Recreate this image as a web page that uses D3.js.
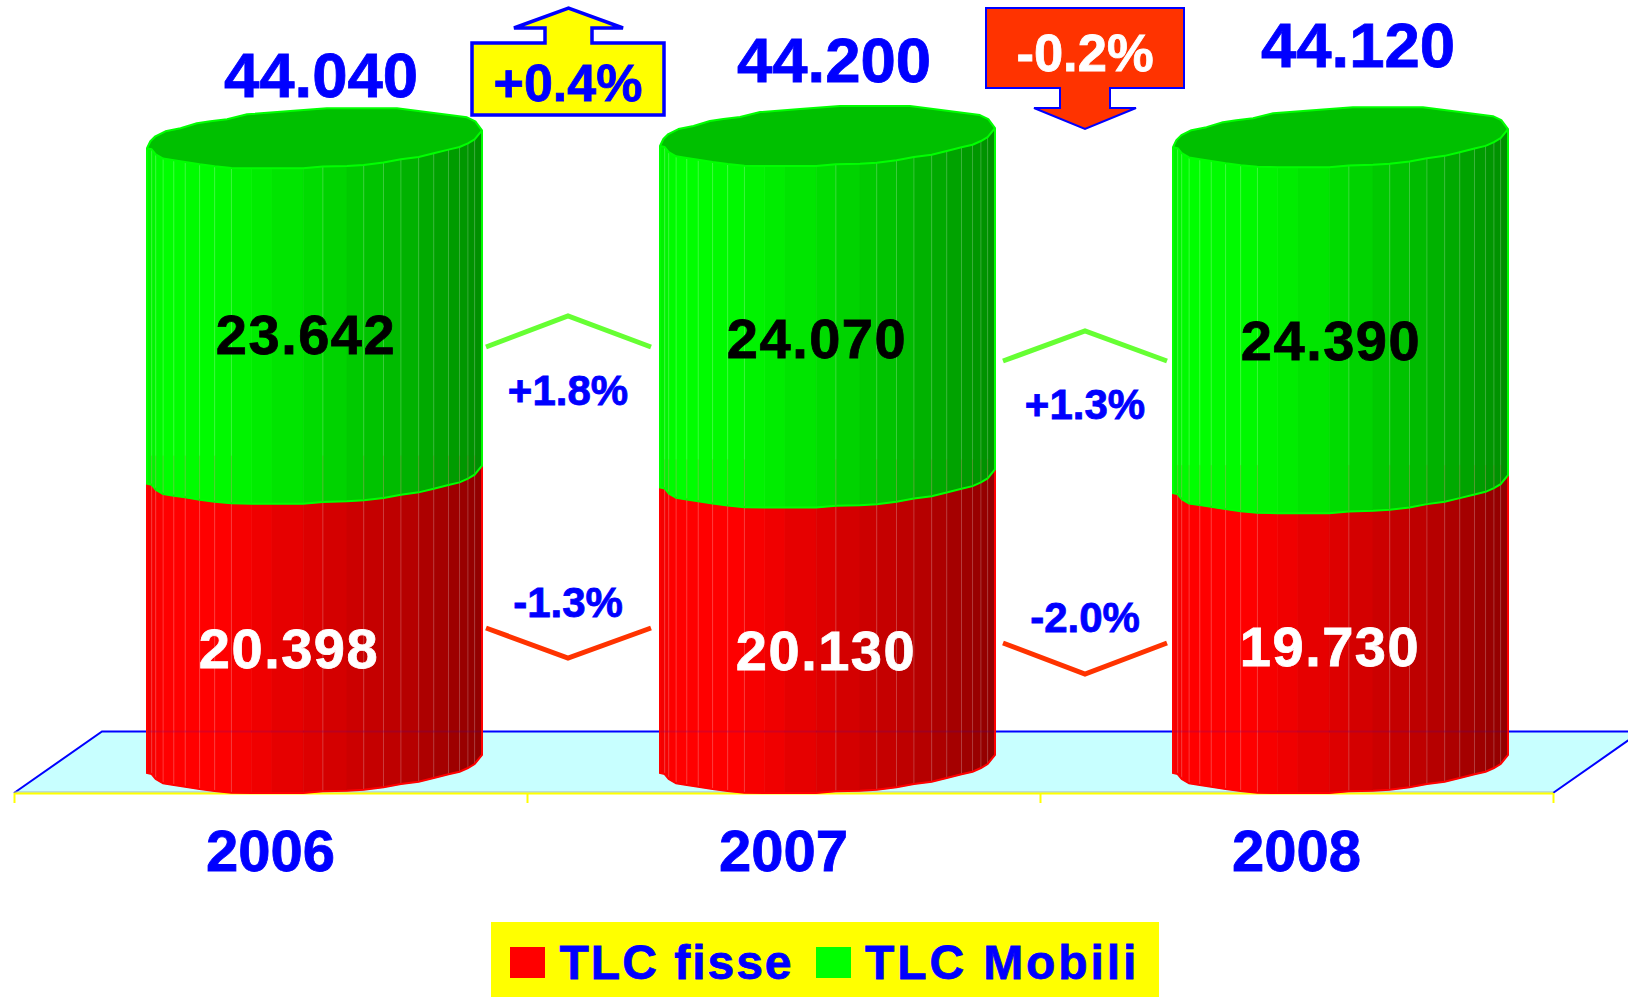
<!DOCTYPE html>
<html><head><meta charset="utf-8">
<script src="https://cdnjs.cloudflare.com/ajax/libs/d3/7.8.5/d3.min.js"></script>
<style>html,body{margin:0;padding:0;background:#fff;overflow:hidden}svg{display:block}text{font-family:"Liberation Sans",Arial,sans-serif;font-weight:700}</style>
</head><body><svg id="c" width="1628" height="997"></svg>
<script>
const years = ["2006","2007","2008"];
const fisse = [20398,20130,19730];
const mobili = [23642,24070,24390];
const totalLabels = ["44.040","44.200","44.120"];
const fisseLabels = ["20.398","20.130","19.730"];
const mobiliLabels = ["23.642","24.070","24.390"];
const mobiliChange = ["+1.8%","+1.3%"];
const fisseChange = ["-1.3%","-2.0%"];
const totalChange = ["+0.4%","-0.2%"];
const seriesNames = ["TLC fisse","TLC Mobili"];
const seriesColors = ["#ff0000","#00ff00"];

// outline of one facetted cylinder: [share of width, px above the lowest rim point, facet line drawn]
const rimFront = [[0,-20,0],[.014,-19,1],[.026,-14,1],[.048,-9.7,1],[.08,-8,1],[.114,-6.3,1],[.157,-4,1],[.202,-2,1],[.252,-.3,1],[.313,0,0],[.373,0,0],[.466,0,0],[.525,-1.7,1],[.597,-2.3,0],[.647,-3.3,1],[.706,-5.7,1],[.758,-9,1],[.811,-11.3,1],[.856,-15,1],[.9,-18.7,1],[.933,-21.3,1],[.958,-25,1],[.978,-29,1],[1,-38,0]];
const rimBack = [[0,-20],[.01,-27],[.025,-32],[.055,-37],[.1,-40],[.149,-45],[.189,-47],[.239,-49],[.299,-54],[.418,-57],[.537,-60],[.746,-60],[.955,-51],[.98,-47],[1,-38]];

const svg = d3.select("#c");
const floorY = 793, backY = 731.5, xL = 14, xR = 1553, depthX = 88;
const x = d3.scaleBand().domain(years).range([xL,xR]);
const y = d3.scaleLinear().domain([0,44040]).range([floorY,floorY-624.7]);
const cylW = 335, cylShift = 44;
const stack = d3.stack().keys(["fisse","mobili"])(years.map((k,i)=>({fisse:fisse[i],mobili:mobili[i]})));
const shade = [
  d3.scaleLinear().domain([0,.05,.22,.5,.75,.93,1]).range(["#f20000","#ff0000","#ff0000","#dc0000","#bc0000","#9c0000","#900000"]),
  d3.scaleLinear().domain([0,.05,.22,.5,.75,.93,1]).range(["#00f000","#00ff00","#00fa00","#00dc00","#00b800","#009a00","#008e00"])
];
const line = d3.line();

// floor
svg.append("path").attr("d",line([[xL,floorY],[xL+depthX,backY],[xR+depthX,backY],[xR,floorY]])+"Z").attr("fill","#c8ffff");
svg.append("path").attr("d",line([[xL,floorY],[xL+depthX,backY],[xR+depthX,backY],[xR,floorY]])).attr("fill","none").attr("stroke","#0000ff").attr("stroke-width",2);
svg.append("line").attr("x1",xL).attr("x2",xR).attr("y1",floorY-1).attr("y2",floorY-1).attr("stroke","#a8b8b8").attr("stroke-width",1);

// axis
const tickScale = d3.scaleLinear().domain([0,years.length]).range([xL,xR]);
const ax = svg.append("g").attr("transform",`translate(0,${floorY})`)
  .call(d3.axisBottom(tickScale).tickValues(d3.range(years.length+1)).tickSize(10).tickSizeOuter(0).tickFormat(""));
ax.selectAll("path,line").attr("stroke","#ffff00").attr("stroke-width",2);

// cylinders
years.forEach((yr,i)=>{
  const left = x(yr)+x.bandwidth()/2+cylShift-cylW/2;
  const g = svg.append("g");
  const px = t=>left+t*cylW;
  stack.forEach((s,si)=>{
    const [v0,v1] = s[i];
    const y0=y(v0), y1=y(v1);
    for(let k=0;k<rimFront.length-1;k++){
      const a=rimFront[k], b=rimFront[k+1], col=shade[si]((a[0]+b[0])/2);
      g.append("path").attr("d",line([[px(a[0]),y1+a[1]],[px(b[0]),y1+b[1]],[px(b[0]),y0+b[1]],[px(a[0]),y0+a[1]]])+"Z")
        .attr("fill",col).attr("stroke",col).attr("stroke-width",.6);
    }
    rimFront.filter(r=>r[2]).forEach(r=>{
      g.append("line").attr("x1",px(r[0])).attr("x2",px(r[0])).attr("y1",y1+r[1]).attr("y2",y0+r[1])
        .attr("stroke","#fff").attr("stroke-opacity",.2).attr("stroke-width",1);
    });
    const stroke = seriesColors[si];
    const lo = rimFront.map(r=>[px(r[0]),y0+r[1]]);
    g.append("path").attr("d",line([[px(0),y1+rimFront[0][1]],...lo,[px(1),y1-38]])).attr("fill","none").attr("stroke",stroke).attr("stroke-width",2);
  });
  // hidden red rim lines seen faintly through the green
  const yMid=y(fisse[i]);
  rimFront.filter(r=>r[2]).forEach(r=>{
    g.append("line").attr("x1",px(r[0])).attr("x2",px(r[0])).attr("y1",yMid-48).attr("y2",yMid+r[1])
      .attr("stroke","#a04000").attr("stroke-opacity",.2).attr("stroke-width",1);
  });
  g.append("line").attr("x1",px(0)).attr("x2",px(1)).attr("y1",backY).attr("y2",backY).attr("stroke","#0000ff").attr("stroke-opacity",.12).attr("stroke-width",2);
  // top cap
  const yTop=y(fisse[i]+mobili[i]);
  const cap=[...rimFront.map(r=>[px(r[0]),yTop+r[1]]),...rimBack.slice().reverse().map(r=>[px(r[0]),yTop+r[1]])];
  g.append("path").attr("d",line(cap)+"Z").attr("fill","#00c000").attr("stroke","#00ff00").attr("stroke-width",2).attr("stroke-linejoin","round");
});

function label(t,cx,by,size,fill,ls){
  return svg.append("text").attr("x",cx).attr("y",by).attr("text-anchor","middle").attr("font-size",size).attr("fill",fill)
    .attr("stroke",fill).attr("stroke-width",.8).attr("letter-spacing",ls||0).text(t);
}
const totalPos=[[321,97],[834,82],[1358,67]];
totalLabels.forEach((t,i)=>label(t,totalPos[i][0],totalPos[i][1],63.5,"#0000ff"));
const mobPos=[[306,354],[817,358],[1331,360]];
mobiliLabels.forEach((t,i)=>label(t,mobPos[i][0],mobPos[i][1],56,"#000",1.5));
const fisPos=[[289,668],[826,670],[1330,666]];
fisseLabels.forEach((t,i)=>label(t,fisPos[i][0],fisPos[i][1],56,"#fff",1.5));
years.forEach(yr=>label(yr,x(yr)+x.bandwidth()/2,871,58,"#0000ff"));

// change marks
const chevX=[[486,568,651],[1003,1085,1167]];
const upY=[[347,316],[361,331]], dnY=[[628,658],[643,674]];
chevX.forEach((c,i)=>{
  svg.append("path").attr("d",line([[c[0],upY[i][0]],[c[1],upY[i][1]],[c[2],upY[i][0]]])).attr("fill","none").attr("stroke","#66ff33").attr("stroke-width",5);
  svg.append("path").attr("d",line([[c[0],dnY[i][0]],[c[1],dnY[i][1]],[c[2],dnY[i][0]]])).attr("fill","none").attr("stroke","#ff3300").attr("stroke-width",5);
  label(mobiliChange[i],c[1],[405,419][i],42,"#0000ff");
  label(fisseChange[i],c[1],[617,632][i],42,"#0000ff");
});

// total change arrows
svg.append("path").attr("d",line([[472,43],[545,43],[545,28],[514,28],[568.5,8],[623,28],[592,28],[592,43],[664,43],[664,115],[472,115]])+"Z")
  .attr("fill","#ffff00").attr("stroke","#0000ff").attr("stroke-width",3.5);
label(totalChange[0],568,101,52,"#0000ff");
svg.append("path").attr("d",line([[986,8],[1184,8],[1184,88],[1110,88],[1110,108],[1136,108],[1085,129],[1034,108],[1060,108],[1060,88],[986,88]])+"Z")
  .attr("fill","#ff3300").attr("stroke","#0000ff").attr("stroke-width",2);
label(totalChange[1],1085,71,52.5,"#fff");

// legend
svg.append("rect").attr("x",491).attr("y",922).attr("width",668).attr("height",75).attr("fill","#ffff00");
const legendPos=[[510,559.5,2],[816,865,2.9]];
seriesNames.forEach((n,i)=>{
  svg.append("rect").attr("x",legendPos[i][0]).attr("y",947).attr("width",35).attr("height",31).attr("fill",seriesColors[i]);
  svg.append("text").attr("x",legendPos[i][1]).attr("y",979).attr("font-size",48).attr("letter-spacing",legendPos[i][2]).attr("fill","#0000ff").attr("stroke","#0000ff").attr("stroke-width",.8).text(n);
});
</script></body></html>
